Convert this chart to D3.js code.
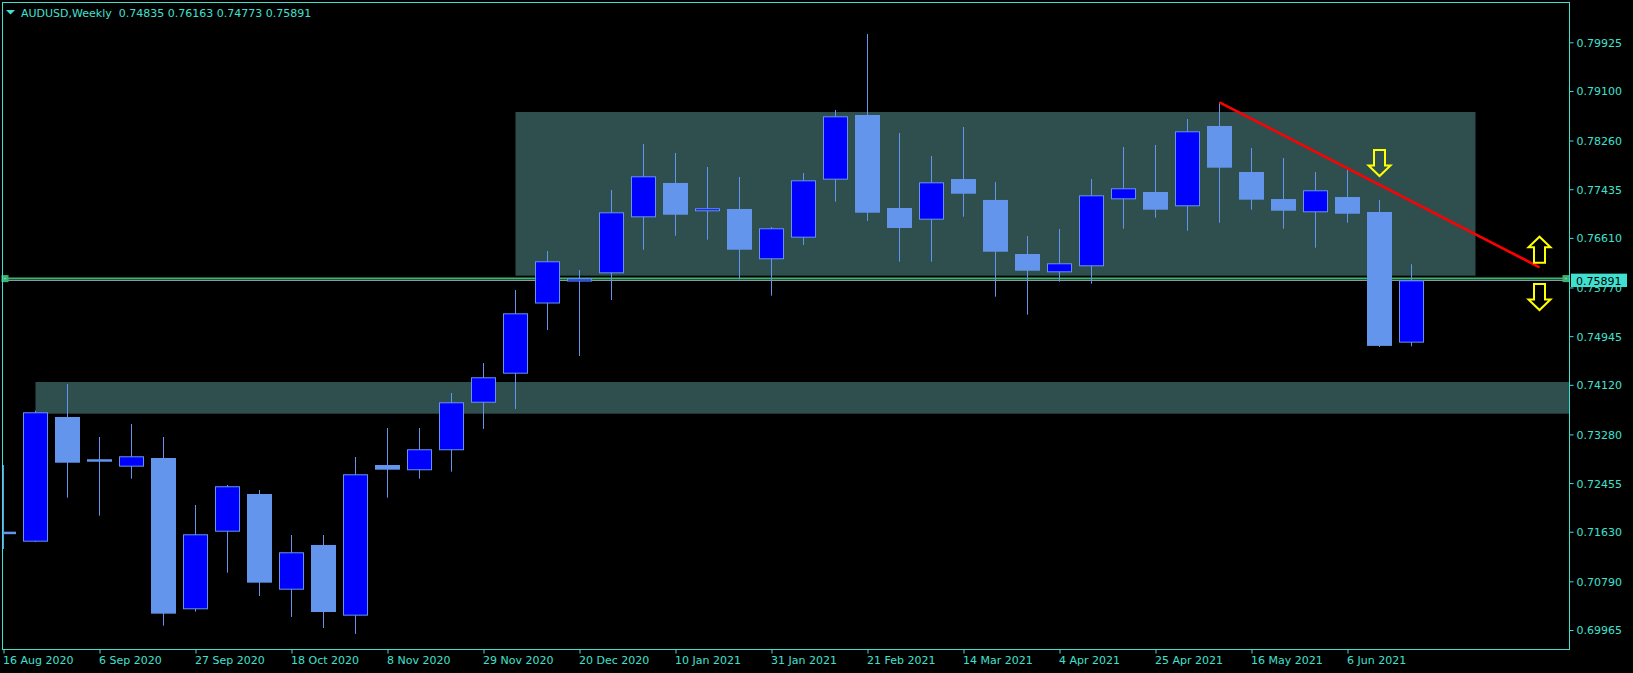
<!DOCTYPE html>
<html>
<head>
<meta charset="utf-8">
<script src="https://cdn.jsdelivr.net/npm/d3@7"></script>
<style>
  html, body { margin: 0; padding: 0; background: #000; }
  svg { display: block; }
</style>
</head>
<body>
<div id="chart"></div>
<script>
// Symbol info shown in the top-left corner
const symbol = "AUDUSD", timeframe = "Weekly";

// Weekly bars
const dates = [
  "16 Aug 2020", "23 Aug 2020", "30 Aug 2020", "6 Sep 2020", "13 Sep 2020", "20 Sep 2020",
  "27 Sep 2020", "4 Oct 2020", "11 Oct 2020", "18 Oct 2020", "25 Oct 2020", "1 Nov 2020",
  "8 Nov 2020", "15 Nov 2020", "22 Nov 2020", "29 Nov 2020", "6 Dec 2020", "13 Dec 2020",
  "20 Dec 2020", "27 Dec 2020", "3 Jan 2021", "10 Jan 2021", "17 Jan 2021", "24 Jan 2021",
  "31 Jan 2021", "7 Feb 2021", "14 Feb 2021", "21 Feb 2021", "28 Feb 2021", "7 Mar 2021",
  "14 Mar 2021", "21 Mar 2021", "28 Mar 2021", "4 Apr 2021", "11 Apr 2021", "18 Apr 2021",
  "25 Apr 2021", "2 May 2021", "9 May 2021", "16 May 2021", "23 May 2021", "30 May 2021",
  "6 Jun 2021", "13 Jun 2021", "20 Jun 2021"
];
const opens = [
  0.71620, 0.71462, 0.73575, 0.72855, 0.72733, 0.72880, 0.70316, 0.71631, 0.72270, 0.70648,
  0.71406, 0.70208, 0.72761, 0.72672, 0.73011, 0.73817, 0.74309, 0.75498, 0.75871, 0.76010,
  0.76959, 0.77541, 0.77061, 0.77100, 0.76248, 0.76614, 0.77597, 0.78693, 0.77117, 0.76919,
  0.77608, 0.77253, 0.76337, 0.76027, 0.76129, 0.77264, 0.77388, 0.77146, 0.78507, 0.77727,
  0.77269, 0.77044, 0.77303, 0.77049, 0.74835
];
const highs = [
  0.72761, 0.73682, 0.74134, 0.73236, 0.73456, 0.73236, 0.72084, 0.72423, 0.72338, 0.71575,
  0.71575, 0.72897, 0.73389, 0.73389, 0.73982, 0.74490, 0.75727, 0.76388, 0.76066, 0.77422,
  0.78202, 0.78049, 0.77812, 0.77642, 0.76795, 0.77710, 0.78778, 0.80066, 0.78388, 0.77998,
  0.78490, 0.77558, 0.76642, 0.76761, 0.77608, 0.78151, 0.78185, 0.78625, 0.78908, 0.78134,
  0.77964, 0.77727, 0.77761, 0.77253, 0.76163
];
const lows = [
  0.71338, 0.71455, 0.72207, 0.71902, 0.72529, 0.70038, 0.70275, 0.70936, 0.70541, 0.70186,
  0.69999, 0.69898, 0.72207, 0.72529, 0.72648, 0.73372, 0.73711, 0.75049, 0.74609, 0.75558,
  0.76410, 0.76647, 0.76580, 0.75909, 0.75631, 0.76490, 0.77224, 0.76897, 0.76207, 0.76207,
  0.76969, 0.75614, 0.75309, 0.75868, 0.75834, 0.76766, 0.76953, 0.76732, 0.76868, 0.77088,
  0.76766, 0.76444, 0.76868, 0.74760, 0.74773
];
const closes = [
  0.71600, 0.73655, 0.72800, 0.72821, 0.72909, 0.70242, 0.71587, 0.72401, 0.70767, 0.71282,
  0.70270, 0.72604, 0.72682, 0.73028, 0.73824, 0.74248, 0.75332, 0.76214, 0.75922, 0.77044,
  0.77654, 0.77003, 0.77112, 0.76410, 0.76773, 0.77586, 0.78671, 0.77037, 0.76778, 0.77552,
  0.77359, 0.76376, 0.76054, 0.76180, 0.77332, 0.77451, 0.77088, 0.78417, 0.77800, 0.77258,
  0.77071, 0.77417, 0.77020, 0.74780, 0.75891
];

// Axis labels
const priceTicks = [0.79925, 0.79100, 0.78260, 0.77435, 0.76610, 0.75770, 0.74945,
                    0.74120, 0.73280, 0.72455, 0.71630, 0.70790, 0.69965];
const dateTicks = ["16 Aug 2020", "6 Sep 2020", "27 Sep 2020", "18 Oct 2020", "8 Nov 2020",
                   "29 Nov 2020", "20 Dec 2020", "10 Jan 2021", "31 Jan 2021", "21 Feb 2021",
                   "14 Mar 2021", "4 Apr 2021", "25 Apr 2021", "16 May 2021", "6 Jun 2021"];

// Drawn objects (bar index, price)
const zoneFrom = [16, 1], zoneTo = [46, 60];
const zoneHigh = [0.78744, 0.74168], zoneLow = [0.75970, 0.73631];
const trendBars = [38, 48], trendPrices = [0.78908, 0.76112];
const arrowBars = [43, 48, 48], arrowPrices = [0.77659, 0.76631, 0.75388], arrowDirs = ["down", "up", "down"];
const levelPrice = 0.7592;
const bidPrice = 0.75891;

const W = 1633, H = 673;
const plot = { left: 2.5, top: 2.5, right: 1569.5, bottom: 649.5 };
const fg = "#40E0D0", bullFill = "#0000FF", bearFill = "#6495ED";
const font = "'DejaVu Sans', Verdana, sans-serif";

const svg = d3.select("#chart").append("svg")
    .attr("width", W)
    .attr("height", H)
    .style("background", "#000");

const x = d3.scaleLinear().domain([0, 44]).range([3.5, 1411.5]);
const y = d3.scaleLinear().domain([0.69643, 0.80608]).range([649, 2]);

svg.append("clipPath").attr("id", "clip")
  .append("rect")
    .attr("x", 3).attr("y", 3)
    .attr("width", plot.right - 3.5).attr("height", plot.bottom - 3.5);

const g = svg.append("g").attr("clip-path", "url(#clip)");

// zones
zoneFrom.forEach((f, i) => {
    g.append("rect")
        .attr("x", x(f))
        .attr("y", y(zoneHigh[i]))
        .attr("width", x(zoneTo[i]) - x(f))
        .attr("height", y(zoneLow[i]) - y(zoneHigh[i]))
        .attr("fill", "#2F4F4F");
});

// horizontal level and bid line
g.append("line")
    .attr("x1", 0).attr("x2", plot.right)
    .attr("y1", y(levelPrice)).attr("y2", y(levelPrice))
    .attr("stroke", "#3CB371").attr("stroke-width", 2);
g.append("line")
    .attr("x1", 0).attr("x2", plot.right)
    .attr("y1", Math.round(y(bidPrice)) + 0.5).attr("y2", Math.round(y(bidPrice)) + 0.5)
    .attr("stroke", "#8A97A4").attr("stroke-width", 1);

// candles
dates.forEach((d, i) => {
    const cx = x(i);
    const up = closes[i] >= opens[i];
    g.append("line")
        .attr("x1", cx).attr("x2", cx)
        .attr("y1", y(highs[i])).attr("y2", y(lows[i]))
        .attr("stroke", bearFill).attr("stroke-width", 1);
    const top = y(Math.max(opens[i], closes[i]));
    const bot = y(Math.min(opens[i], closes[i]));
    if (up) {
        g.append("rect")
            .attr("x", cx - 12).attr("width", 24)
            .attr("y", top + 0.5).attr("height", Math.max(bot - top - 1, 1))
            .attr("fill", bullFill)
            .attr("stroke", bearFill).attr("stroke-width", 1);
    } else {
        const h = Math.max(bot - top, 2.5);
        g.append("rect")
            .attr("x", cx - 12.5).attr("width", 25)
            .attr("y", (top + bot) / 2 - h / 2).attr("height", h)
            .attr("fill", bearFill);
    }
});

// selection markers of the level line
[5, 1566].forEach(mx => {
    svg.append("rect")
        .attr("x", mx - 3.5).attr("y", y(levelPrice) - 3.5)
        .attr("width", 7).attr("height", 7)
        .attr("fill", "#3CB371");
    svg.append("rect")
        .attr("x", mx - 0.5).attr("y", y(levelPrice) - 0.5)
        .attr("width", 1).attr("height", 1)
        .attr("fill", "#dfffee");
});

// trend line
svg.append("line")
    .attr("x1", x(trendBars[0])).attr("y1", y(trendPrices[0]))
    .attr("x2", x(trendBars[1])).attr("y2", y(trendPrices[1]))
    .attr("stroke", "#FF0000").attr("stroke-width", 2.6);

// arrows
arrowBars.forEach((b, i) => {
    const cx = x(b), ty = y(arrowPrices[i]);
    const s = arrowDirs[i] === "down" ? -1 : 1;
    const pts = [
        [cx - 5.5, ty + s * 26], [cx + 5.5, ty + s * 26], [cx + 5.5, ty + s * 10.5],
        [cx + 11, ty + s * 10.5], [cx, ty], [cx - 11, ty + s * 10.5], [cx - 5.5, ty + s * 10.5]
    ];
    svg.append("path")
        .attr("d", d3.line()(pts) + "Z")
        .attr("fill", "none")
        .attr("stroke", "#FFFF00").attr("stroke-width", 2)
        .attr("stroke-linejoin", "miter");
});

// frame
svg.append("rect")
    .attr("x", plot.left).attr("y", plot.top)
    .attr("width", plot.right - plot.left).attr("height", plot.bottom - plot.top)
    .attr("fill", "none").attr("stroke", fg).attr("stroke-width", 1);

// price axis
const yAxis = svg.append("g")
    .attr("transform", `translate(${plot.right}, 0)`)
    .call(d3.axisRight(y).tickValues(priceTicks).tickSize(4).tickPadding(3)
        .tickFormat(d3.format(".5f")));
yAxis.select(".domain").remove();
yAxis.selectAll("line").attr("stroke", fg);
yAxis.selectAll("text")
    .attr("fill", fg).attr("font-family", font).attr("font-size", 11).attr("dy", "0.36em");

// date axis
const xAxis = svg.append("g")
    .attr("transform", `translate(0, ${plot.bottom})`)
    .call(d3.axisBottom(x).tickValues(dateTicks.map(t => dates.indexOf(t))).tickSize(4)
        .tickFormat(i => dates[i]));
xAxis.select(".domain").remove();
xAxis.selectAll("line").attr("stroke", fg);
xAxis.selectAll("text")
    .attr("fill", fg).attr("font-family", font).attr("font-size", 11)
    .attr("text-anchor", "start").attr("x", -1);

// current price label
const by = y(bidPrice);
svg.append("rect")
    .attr("x", 1571).attr("y", by - 6.7)
    .attr("width", 56).attr("height", 13.4)
    .attr("fill", fg);
svg.append("text")
    .attr("x", 1576).attr("y", by + 4.2)
    .attr("font-family", font).attr("font-size", 11)
    .attr("fill", "#000")
    .text(d3.format(".5f")(bidPrice));

// header
svg.append("path")
    .attr("d", "M6,10 L15,10 L10.5,14.5 Z")
    .attr("fill", fg);
const last = dates.length - 1;
svg.append("text")
    .attr("x", 21).attr("y", 16.7)
    .attr("font-family", font).attr("font-size", 11)
    .attr("fill", fg)
    .style("white-space", "pre")
    .text(`${symbol},${timeframe}  ` +
        [opens[last], highs[last], lows[last], closes[last]].map(d3.format(".5f")).join(" "));
</script>
</body>
</html>
